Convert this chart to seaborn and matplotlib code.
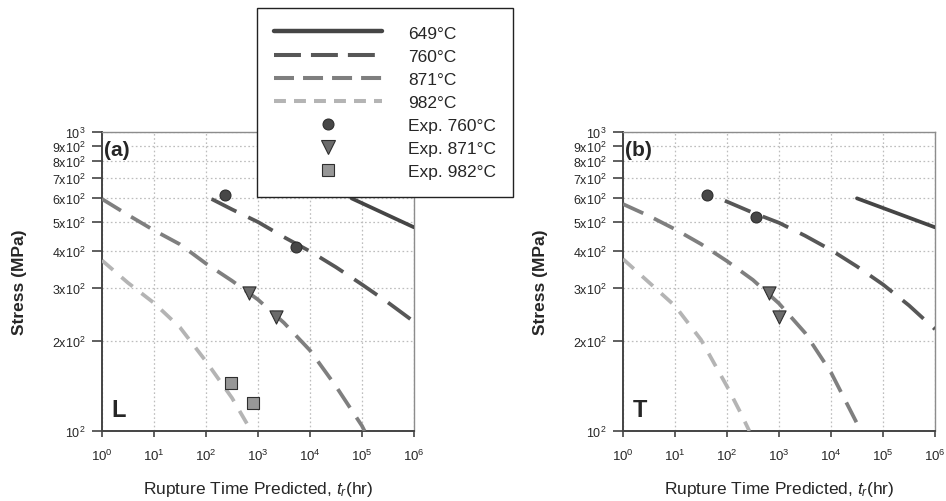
import matplotlib
matplotlib.use("Agg")
import matplotlib.pyplot as plt
from matplotlib.lines import Line2D
from matplotlib.ticker import FixedLocator, NullLocator
import pandas as pd
import seaborn as sns

sns.set_style("white")
plt.rcParams["font.family"] = ["Liberation Sans", "DejaVu Sans"]
plt.rcParams["mathtext.fontset"] = "custom"
plt.rcParams["mathtext.rm"] = "Liberation Sans"
plt.rcParams["mathtext.it"] = "Liberation Sans:italic"
plt.rcParams["mathtext.bf"] = "Liberation Sans:bold"
plt.rcParams["lines.scale_dashes"] = False

# ---- predicted rupture curves, longitudinal (L) specimens ----
a_649_t = [6.3e4, 1e6]
a_649_s = [600, 480]
a_760_t = [128, 316, 1000, 3162, 1e4, 31623, 1e5, 316228, 1e6]
a_760_s = [597, 551, 500, 445, 399, 353, 309, 269, 232]
a_871_t = [1, 3.16, 10, 31.6, 100, 316, 1000, 3162, 1e4, 31623, 1e5, 1.12e5]
a_871_s = [597, 528, 469, 421, 363, 318, 275, 230, 186, 141, 104, 100]
a_982_t = [1, 3.16, 10, 31.6, 100, 316, 741]
a_982_s = [372, 313, 268, 222, 171, 129, 100]

# ---- predicted rupture curves, transverse (T) specimens ----
b_649_t = [3.16e4, 1e6]
b_649_s = [600, 480]
b_760_t = [91, 316, 1000, 3162, 1e4, 31623, 1e5, 316228, 1e6]
b_760_s = [589, 537, 497, 450, 403, 355, 309, 263, 219]
b_871_t = [1, 3.16, 10, 31.6, 100, 316, 1000, 3162, 1e4, 31623, 37154]
b_871_s = [574, 524, 473, 422, 370, 320, 267, 213, 157, 106, 100]
b_982_t = [1, 3.16, 10, 31.6, 100, 178, 269]
b_982_s = [376, 314, 262, 202, 141, 116, 100]

# ---- experimental rupture tests ----
a_exp760_t, a_exp760_s = [234, 5400], [615, 411]
a_exp871_t, a_exp871_s = [676, 2200], [289, 240]
a_exp982_t, a_exp982_s = [300, 815], [145, 124]
b_exp760_t, b_exp760_s = [41, 354], [615, 519]
b_exp871_t, b_exp871_s = [635, 1000], [290, 240]

temps = ["649°C", "760°C", "871°C", "982°C"]
exp_labels = ["Exp. 760°C", "Exp. 871°C", "Exp. 982°C"]

y_ticks = [100, 200, 300, 400, 500, 600, 700, 800, 900, 1000]
y_ticklabels = ["10$^2$", "2x10$^2$", "3x10$^2$", "4x10$^2$", "5x10$^2$",
                "6x10$^2$", "7x10$^2$", "8x10$^2$", "9x10$^2$", "10$^3$"]
x_ticks = [1, 10, 100, 1e3, 1e4, 1e5, 1e6]
x_ticklabels = ["10$^0$", "10$^1$", "10$^2$", "10$^3$", "10$^4$", "10$^5$", "10$^6$"]

line_colors = {"649°C": "#454545", "760°C": "#575757", "871°C": "#7f7f7f", "982°C": "#b4b4b4"}
line_dashes = {"649°C": "", "760°C": (20, 9.5), "871°C": (16, 8.5), "982°C": (10.5, 8)}
legend_dashes = {"760°C": (19.4, 7.2), "871°C": (14.4, 6.5), "982°C": (8.6, 5.8)}
marker_style = {
    "Exp. 760°C": dict(marker="o", s=62, color="#474747"),
    "Exp. 871°C": dict(marker="v", s=90, color="#6b6b6b"),
    "Exp. 982°C": dict(marker="s", s=72, color="#979797"),
}


def curves_frame(series):
    rows = []
    for name, t, s in series:
        rows += [{"temp": name, "t": ti, "s": si} for ti, si in zip(t, s)]
    return pd.DataFrame(rows)


panels = [
    dict(tag="(a)", orient="L",
         curves=[("649°C", a_649_t, a_649_s), ("760°C", a_760_t, a_760_s),
                 ("871°C", a_871_t, a_871_s), ("982°C", a_982_t, a_982_s)],
         exp=[("Exp. 760°C", a_exp760_t, a_exp760_s), ("Exp. 871°C", a_exp871_t, a_exp871_s),
              ("Exp. 982°C", a_exp982_t, a_exp982_s)]),
    dict(tag="(b)", orient="T",
         curves=[("649°C", b_649_t, b_649_s), ("760°C", b_760_t, b_760_s),
                 ("871°C", b_871_t, b_871_s), ("982°C", b_982_t, b_982_s)],
         exp=[("Exp. 760°C", b_exp760_t, b_exp760_s), ("Exp. 871°C", b_exp871_t, b_exp871_s)]),
]

fig = plt.figure(figsize=(9.46, 5.02), dpi=100)
ax_a = fig.add_axes([102 / 946, 70 / 502, 312 / 946, 299 / 502])
ax_b = fig.add_axes([623 / 946, 70 / 502, 312 / 946, 299 / 502])

for ax, p in zip([ax_a, ax_b], panels):
    ax.set_xscale("log")
    ax.set_yscale("log")
    df = curves_frame(p["curves"])
    sns.lineplot(data=df, x="t", y="s", hue="temp", style="temp",
                 palette=line_colors, dashes=line_dashes, hue_order=temps,
                 style_order=temps, linewidth=2.7, legend=False, ax=ax,
                 estimator=None, zorder=3)
    for name, t, s in p["exp"]:
        st = marker_style[name]
        sns.scatterplot(x=t, y=s, marker=st["marker"], s=st["s"], color=st["color"],
                        edgecolor="#2e2e2e", linewidth=0.8, ax=ax, zorder=4, legend=False)

    ax.set_xlim(1, 1e6)
    ax.set_ylim(100, 1000)
    ax.xaxis.set_major_locator(FixedLocator(x_ticks))
    ax.xaxis.set_minor_locator(NullLocator())
    ax.set_xticklabels(x_ticklabels)
    ax.yaxis.set_major_locator(FixedLocator(y_ticks))
    ax.yaxis.set_minor_locator(NullLocator())
    ax.set_yticklabels(y_ticklabels)
    ax.tick_params(axis="y", direction="out", length=7, width=1.2, color="#444444",
                   labelsize=9, pad=5, left=True)
    ax.tick_params(axis="x", direction="out", length=4, width=1.2, color="#444444",
                   labelsize=9.5, pad=8, bottom=True)
    ax.grid(True, which="major", color="#bdbdbd", linestyle=(0, (1.2, 1.8)), linewidth=0.9)
    ax.set_axisbelow(True)
    for side in ["left", "bottom"]:
        ax.spines[side].set_color("#444444")
        ax.spines[side].set_linewidth(1.4)
    for side in ["top", "right"]:
        ax.spines[side].set_color("#8c8c8c")
        ax.spines[side].set_linewidth(1.0)

    ax.set_ylabel("Stress (MPa)", fontsize=12.5, fontweight="bold")
    ax.yaxis.set_label_coords(-0.24, 0.5)
    ax.set_xlabel(r"Rupture Time Predicted, $\mathit{t}_{r}$(hr)", fontsize=12.5, va="top")
    ax.xaxis.set_label_coords(0.5, -0.16)

    ax.text(0.006, 0.942, p["tag"], transform=ax.transAxes, fontsize=15, fontweight="bold",
            ha="left", va="center", zorder=5,
            bbox=dict(facecolor="white", edgecolor="none", pad=0.5))
    ax.text(0.03, 0.072, p["orient"], transform=ax.transAxes, fontsize=17, fontweight="bold",
            ha="left", va="center", zorder=5)

# shared legend above the left panel
handles = []
for name in temps:
    kw = dict(color=line_colors[name], linewidth=3.2 if name == "649°C" else 2.9)
    if name in legend_dashes:
        kw["dashes"] = legend_dashes[name]
    handles.append(Line2D([], [], **kw))
for name in exp_labels:
    st = marker_style[name]
    handles.append(Line2D([], [], linestyle="None", marker=st["marker"],
                          markersize=st["s"] ** 0.5, markerfacecolor=st["color"],
                          markeredgecolor="#2e2e2e", markeredgewidth=0.8))

leg = fig.legend(handles, temps + exp_labels, loc="upper left",
                 bbox_to_anchor=(257 / 946, 1 - 9 / 502), bbox_transform=fig.transFigure,
                 borderaxespad=0, frameon=True, fancybox=False, framealpha=1,
                 edgecolor="#222222", fontsize=12.5, handlelength=6.2, handletextpad=1.5,
                 labelspacing=0.46, borderpad=1.0, numpoints=1)
leg.get_frame().set_linewidth(1.0)
leg.set_zorder(10)

fig.savefig("out.png", dpi=100, facecolor="white")
